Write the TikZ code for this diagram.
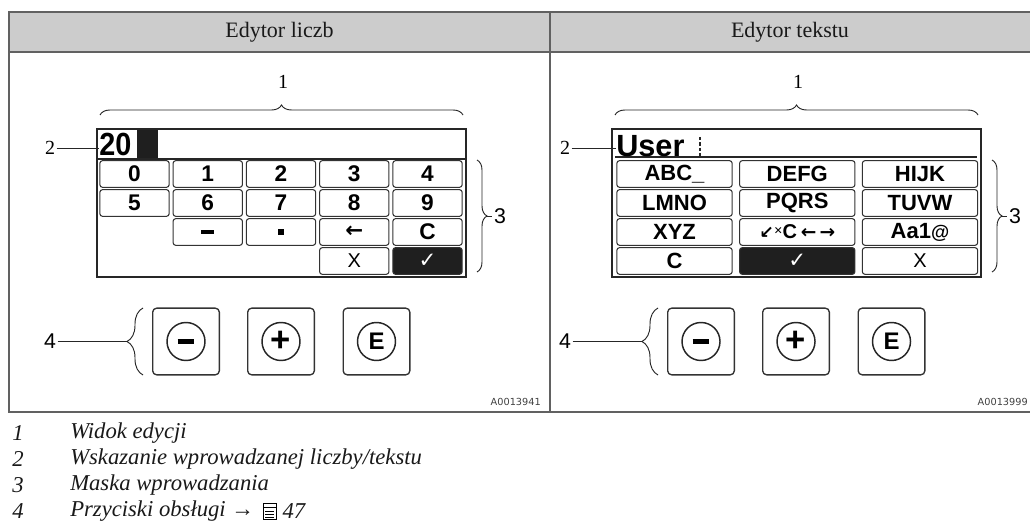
\documentclass[tikz,border=0pt]{standalone}
\usepackage{fontspec,graphicx}
\setmainfont{Liberation Serif}
\setsansfont{Liberation Sans}
\newfontfamily\symfont{DejaVu Sans}
\usetikzlibrary{decorations.pathreplacing,positioning}
\tikzset{
  frameline/.style={draw=black!62,line width=1.5pt},
  headtxt/.style={font=\fontsize{16.5}{18}\selectfont,text=black!90},
  dispbox/.style={draw=black!85,line width=1.1pt},
  valtxt/.style={inner sep=0pt,font=\sffamily\bfseries\fontsize{24}{24}\selectfont},
  keyblk/.style={draw=black!80,line width=0.8pt,rounded corners=2pt,inner sep=0pt,minimum width=52pt,minimum height=20pt,font=\sffamily\bfseries\fontsize{17}{17}\selectfont},
  widekey/.style={keyblk,minimum width=86.5pt,font=\sffamily\bfseries\fontsize{16.5}{16.5}\selectfont},
  okkey/.style={fill=black!88,text=white,font=\symfont\bfseries\fontsize{16}{16}\selectfont},
  xkey/.style={font=\sffamily\fontsize{15}{15}\selectfont},
  btn/.style={draw=black!80,line width=1pt,rounded corners=3pt,minimum size=50pt},
  btnring/.style={circle,draw=black!85,line width=1.1pt,minimum size=28.5pt,inner sep=0pt,font=\sffamily\bfseries\fontsize{18}{18}\selectfont},
  bracer/.style={decorate,decoration={brace,amplitude=7.5pt},draw=black!85,line width=0.7pt},
  callnum/.style={font=\fontsize{15}{15}\selectfont,inner sep=1pt},
  callsf/.style={font=\sffamily\fontsize{16}{16}\selectfont,inner sep=1pt},
  callline/.style={draw=black!85,line width=0.7pt},
  cursorline/.style={draw=black!85,line width=1.2pt,dash pattern=on 2.5pt off 1.5pt},
  tagtxt/.style={font=\symfont\fontsize{7.3}{8}\selectfont,text=black!75,inner sep=0pt},
  ftxt/.style={anchor=west,inner sep=0pt,font=\itshape\fontsize{17}{19}\selectfont,text=black!90}
}
% braces, callouts and the three operating keys (same in both panels)
\newcommand{\panelparts}[2]{%
  \coordinate (b1l) at (100,115); \coordinate (b1r) at (463,115);
  \draw[bracer] (b1l) -- (b1r);
  \node[callnum] (n1) at (283,82) {1};
  \node[callnum] (n2) at (50,148) {2};
  \draw[callline] (n2) -- (n2 -| val.west);
  \coordinate (b3t) at (477,160); \coordinate (b3b) at (477,272);
  \draw[bracer] (b3t) -- (b3b);
  \coordinate (b3tip) at (487,216);
  \node[callsf] (n3) at (500,216) {3};
  \draw[callline] (b3tip) -- (n3.west);
  \node[btn] (bm) at (186,341.5) {};
  \node[btnring] (rm) at (bm.center) {\rule{12.5pt}{3.6pt}};
  \node[btn] (bp) at (281,341.5) {};
  \node[btnring,font=\sffamily\bfseries\fontsize{26}{26}\selectfont] (rp) at (bp.center) {+};
  \node[btn] (be) at (376.5,341.5) {};
  \node[btnring] (re) at (be.center) {E};
  \coordinate (b4b) at (143,375); \coordinate (b4t) at (143,308);
  \draw[bracer,decoration={brace,amplitude=12pt}] (b4b) -- (b4t);
  \coordinate (b4tip) at (127,341.5);
  \node[callsf] (n4) at (50,341.5) {4};
  \draw[callline] (n4) -- (b4tip);
  \node[tagtxt,anchor=east] (tag) at (#1,402) {A00139#2};}

\begin{document}
\begin{tikzpicture}[x=0.75pt,y=-0.75pt]
  \useasboundingbox (0,0) rectangle (1030,530);

  % header and frame
  \draw[frameline,fill=black!20] (9,12) rectangle (1032,52);
  \draw[frameline] (9,52) -- (9,412) -- (1032,412);
  \draw[frameline] (550,12) -- (550,412);
  \node[headtxt] (hnum) at (279.5,32) {Edytor liczb};
  \node[headtxt] (htxt) at (790,32) {Edytor tekstu};

  % number editor
  \begin{scope}[name prefix=L-]
    \draw[dispbox] (97,129) rectangle (466,277);
    \draw[dispbox] (97,159) -- (466,159);
    \node[valtxt,anchor=west] (val) at (99,144) {\scalebox{0.9}[1]{20}};
    \fill[black!88] (137,130) rectangle (158,158);
    \foreach \d [count=\i from 0] in {0,...,4}
      \node[keyblk] (k0\i) at ({134.5+73.25*\i},174) {\d};
    \foreach \d [count=\i from 0] in {5,...,9}
      \node[keyblk] (k1\i) at ({134.5+73.25*\i},203) {\d};
    \node[keyblk] (k21) at (207.75,232) {\rule{10pt}{3pt}};
    \node[keyblk] (k22) at (281,232) {\rule{4pt}{4pt}};
    \node[keyblk] (k23) at (354.25,232) {{\symfont\bfseries\fontsize{16}{16}\selectfont ←}};
    \node[keyblk] (k24) at (427.5,232) {C};
    \node[keyblk,xkey] (k33) at (354.25,261) {X};
    \node[keyblk,okkey] (k34) at (427.5,261) {✓};
    \panelparts{541}{41}
  \end{scope}

  % text editor
  \begin{scope}[shift={(515,0)},name prefix=R-]
    \draw[dispbox] (97,129) rectangle (466,277);
    \draw[dispbox] (100,157) -- (462,157);
    \node[valtxt,anchor=west,font=\sffamily\bfseries\fontsize{23}{23}\selectfont] (val) at (101,146) {User};
    \draw[cursorline] (185,137) -- (185,156);
    \foreach \a/\b/\c [count=\j from 0] in {ABC\_/DEFG/HIJK,LMNO/PQRS/TUVW} {
      \node[widekey] (k\j0) at (159.5,{174+29*\j}) {\a};
      \node[widekey] (k\j1) at (282.25,{174+29*\j}) {\b};
      \node[widekey] (k\j2) at (405,{174+29*\j}) {\c};
    }
    \node[widekey] (k20) at (159.5,232) {XYZ};
    \node[widekey] (k21) at (282.25,232) {{\symfont\bfseries\fontsize{13}{13}\selectfont ↙\raisebox{3pt}{\fontsize{8}{8}\selectfont ✕}}{\fontsize{15}{15}\selectfont C}\,{\symfont\fontsize{14}{14}\selectfont ←\,→}};
    \node[widekey] (k22) at (405,232) {Aa1{\fontsize{14}{14}\selectfont @}};
    \node[widekey] (k30) at (159.5,261) {C};
    \node[widekey,okkey] (k31) at (282.25,261) {✓};
    \node[widekey,xkey] (k32) at (405,261) {X};
    \panelparts{513}{99}
  \end{scope}

  % legend
  \draw[frameline] (9,412) -- (1032,412);
  \node[ftxt] (f1n) at (12,433) {1};
  \node[ftxt] (f1) at (70,433) {Widok edycji};
  \node[ftxt] (f2n) at (12,459) {2};
  \node[ftxt] (f2) at (70,459) {Wskazanie wprowadzanej liczby/tekstu};
  \node[ftxt] (f3n) at (12,485) {3};
  \node[ftxt] (f3) at (70,485) {Maska wprowadzania};
  \node[ftxt] (f4n) at (12,511) {4};
  \node[ftxt] (f4) at (70,511) {Przyciski obsługi →};
  \begin{scope}[shift={(f4.east)},line width=0.6pt]
    \draw (9,-8) rectangle (22,8);
    \draw (9,-4) -- (22,-4);
    \foreach \yy in {0,3,6} \draw (11,\yy) -- (20,\yy);
  \end{scope}
  \node[ftxt] (f4p) at ([xshift=21pt]f4.east) {47};
\end{tikzpicture}
\end{document}
